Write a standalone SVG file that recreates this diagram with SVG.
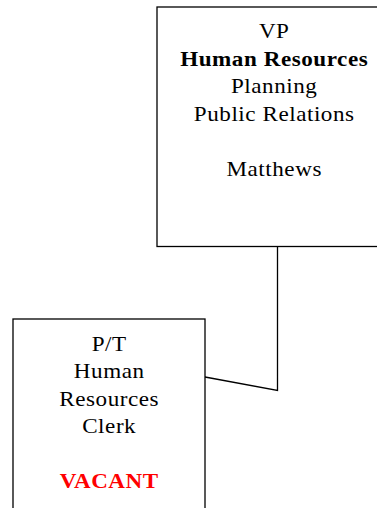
<svg xmlns="http://www.w3.org/2000/svg" width="377" height="508" viewBox="0 0 377 508">
<style>
.box{fill:#fff;stroke:#000;stroke-width:1.3}
.t{font-family:"Liberation Serif","Times New Roman",serif;font-size:21px;letter-spacing:0.5px;text-anchor:middle;fill:#000}
.b{font-weight:bold}
.red{fill:#ff0000;font-weight:bold}
.conn{fill:none;stroke:#000;stroke-width:1.3}
</style>
<rect width="377" height="508" fill="#fff"/>
<g id="connectors">
<polyline class="conn" points="277.5,246.5 277.5,390.5 205,377"/>
</g>
<g id="vp-hr">
<rect class="box" x="157" y="7" width="230" height="239.5"/>
<g transform="translate(274.2,0) scale(1.1,1)">
<text class="t" x="0" y="38">VP</text>
<text class="t b" x="0" y="66">Human Resources</text>
<text class="t" x="0" y="93">Planning</text>
<text class="t" x="0" y="121">Public Relations</text>
<text class="t" x="0" y="176">Matthews</text>
</g>
</g>
<g id="pt-clerk">
<rect class="box" x="13" y="319" width="192" height="200"/>
<g transform="translate(109.2,0) scale(1.1,1)">
<text class="t" x="0" y="351">P/T</text>
<text class="t" x="0" y="378.5">Human</text>
<text class="t" x="0" y="406">Resources</text>
<text class="t" x="0" y="433.5">Clerk</text>
<text class="t red" x="0" y="488">VACANT</text>
</g>
</g>
</svg>
